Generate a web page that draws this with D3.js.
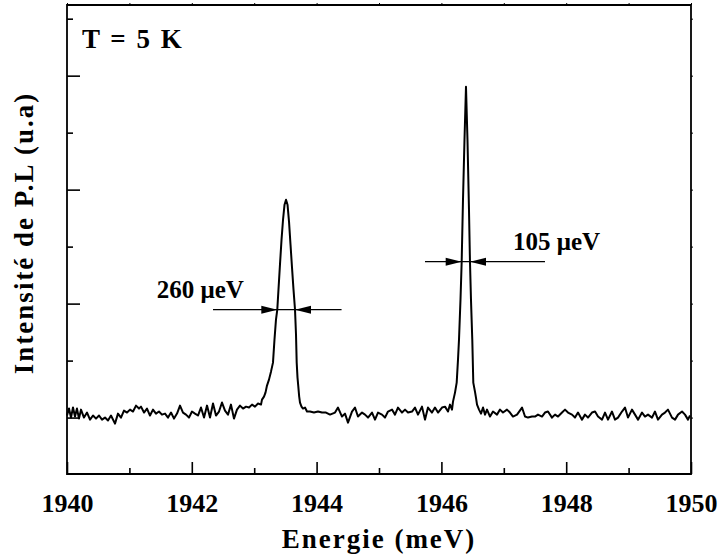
<!DOCTYPE html>
<html><head><meta charset="utf-8">
<script src="https://cdn.jsdelivr.net/npm/d3@7"></script>
<style>html,body{margin:0;padding:0;background:#fff;} svg{display:block;}</style>
</head><body><svg id="c" width="722" height="559"></svg>
<script>
// ---------- DATA ----------
const xDomain = [1940, 1950];
const yDomain = [505, 4620];
const xMajor = [1940, 1942, 1944, 1946, 1948, 1950];
const xMinor = [1941, 1943, 1945, 1947, 1949];
const yMajor = [1000, 2000, 3000, 4000];
const yMinor = [1500, 2500, 3500, 4500];

// baseline before first peak
const energyA = [
1940.000,1940.032,1940.064,1940.096,1940.128,1940.160,1940.192,1940.224,1940.272,1940.321,
1940.369,1940.417,1940.465,1940.513,1940.561,1940.609,1940.657,1940.705,1940.769,1940.817,
1940.865,1940.913,1940.962,1941.010,1941.058,1941.106,1941.154,1941.186,1941.234,1941.282,
1941.330,1941.378,1941.426,1941.474,1941.522,1941.571,1941.619,1941.667,1941.715,1941.763,
1941.811,1941.859,1941.907,1941.955,1942.003,1942.051,1942.099,1942.147,1942.196,1942.244,
1942.292,1942.340,1942.388,1942.436,1942.484,1942.532,1942.580,1942.628,1942.676,1942.724,
1942.772,1942.821,1942.869,1942.917,1942.965,1943.013,1943.061,1943.109];
const intensityA = [
1018,1079,1000,1088,1009,1079,991,1070,1000,1044,
982,1018,991,1018,982,1000,974,1018,947,1035,
1000,1061,1044,1070,1053,1105,1079,1096,1044,1079,
1018,1070,1035,1053,1026,1035,1000,1044,991,1035,
1105,1044,1026,1000,1053,1035,1018,1088,1000,1105,
1000,1123,1018,1053,1132,1061,1026,1114,991,1070,
1105,1079,1096,1088,1114,1096,1123,1114];

// first peak (260 µeV)
const energyP1 = [
1943.125,1943.157,1943.181,1943.205,1943.237,1943.269,1943.301,1943.325,1943.349,1943.370,
1943.389,1943.413,1943.438,1943.462,1943.486,1943.510,1943.534,1943.558,1943.582,1943.606,
1943.630,1943.654,1943.670,1943.681,1943.694,1943.707,1943.721,1943.734,1943.758,1943.782,
1943.814,1943.846];
const intensityP1 = [
1158,1184,1219,1281,1333,1403,1482,1684,1859,1947,
2123,2342,2561,2736,2868,2912,2868,2719,2517,2316,
2123,1947,1728,1482,1351,1272,1184,1132,1096,1079,
1088,1053];

// baseline between peaks
const energyB = [
1943.894,1943.958,1944.022,1944.087,1944.151,1944.215,1944.295,1944.343,1944.407,1944.455,
1944.503,1944.567,1944.615,1944.663,1944.728,1944.776,1944.824,1944.888,1944.936,1944.984,
1945.048,1945.096,1945.144,1945.208,1945.256,1945.304,1945.369,1945.417,1945.465,1945.529,
1945.577,1945.625,1945.689,1945.737,1945.785,1945.849,1945.897,1945.946,1946.010,1946.058,
1946.106,1946.138,1946.170,1946.186];
const intensityB = [
1053,1044,1053,1044,1044,1026,1044,1088,1009,1035,
956,1053,1088,1009,1044,1026,1000,1044,982,1044,
1026,1000,1053,1070,1026,1088,1044,1070,1044,1053,
1088,1026,1096,982,1088,1044,1088,1044,1088,1096,
1053,1114,1070,1140];

// second peak (105 µeV)
const energyP2 = [
1946.218,1946.245,1946.266,1946.282,1946.306,1946.325,1946.346,1946.370,1946.394,1946.418,
1946.442,1946.458,1946.474,1946.495,1946.511,1946.538,1946.554,1946.571,1946.603,1946.635,
1946.667,1946.699,1946.731];
const intensityP2 = [
1219,1307,1509,1684,2035,2368,2912,3438,3903,3438,
2824,2368,2035,1684,1307,1228,1175,1114,1070,1035,
1088,1026,1070];

// baseline after second peak
const energyC = [
1946.779,1946.827,1946.891,1946.939,1946.987,1947.051,1947.099,1947.147,1947.212,1947.292,
1947.340,1947.388,1947.452,1947.500,1947.548,1947.612,1947.660,1947.708,1947.772,1947.821,
1947.869,1947.933,1947.981,1948.029,1948.093,1948.141,1948.189,1948.253,1948.301,1948.349,
1948.413,1948.462,1948.510,1948.574,1948.622,1948.670,1948.734,1948.782,1948.830,1948.894,
1948.942,1948.990,1949.054,1949.103,1949.151,1949.215,1949.263,1949.311,1949.375,1949.423,
1949.471,1949.535,1949.583,1949.631,1949.696,1949.744,1949.792,1949.856,1949.904,1949.952,
1949.984];
const intensityC = [
1009,1053,1026,1070,1044,1070,1044,1009,1026,1088,
1009,1000,1009,1009,1026,1009,1044,1053,1000,1026,
1009,1044,1070,1044,1026,1000,1044,982,1026,1000,
1044,1053,1009,982,1044,982,1053,982,1000,1053,
1088,1000,1070,1026,982,1044,1009,1026,1000,1053,
982,1026,1044,1070,1000,982,1026,1053,1026,982,
1018];

// FWHM annotations (data units)
const fwhmLabels = ["260 \u03BCeV", "105 \u03BCeV"];
const fwhmLevel = [1947, 2368];
const fwhmTipLeft = [1943.370, 1946.325];
const fwhmTipRight = [1943.654, 1946.458];
const fwhmLineStart = [1942.34, 1945.737];
const fwhmLineEnd = [1944.40, 1947.66];
const labelE = [1941.44, 1947.147];
const labelI = [2052, 2473];

const tempLabel = "T = 5 K";
const xTitle = "Energie (meV)";
const yTitle = "Intensit\u00E9 de P.L (u.a)";

// ---------- DRAW ----------
const FONT = "'Liberation Serif','Times New Roman',serif";
const svg = d3.select("#c");
const L = 67, R = 691, T = 5, B = 474;
const x = d3.scaleLinear().domain(xDomain).range([L, R]);
const y = d3.scaleLinear().domain(yDomain).range([B, T]);

const energy = [].concat(energyA, energyP1, energyB, energyP2, energyC);
const intensity = [].concat(intensityA, intensityP1, intensityB, intensityP2, intensityC);
const data = energy.map((e, i) => ({e, v: intensity[i]}));

function styleAxis(g, w) {
  g.select(".domain").remove();
  g.selectAll(".tick line").attr("stroke", "#000").attr("stroke-width", w);
}

// ticks
svg.append("g").attr("transform", `translate(0,${B})`)
  .call(d3.axisBottom(x).tickValues(xMajor).tickSizeInner(-12).tickSizeOuter(0).tickPadding(20).tickFormat(d3.format("d")))
  .call(g => styleAxis(g, 1.6))
  .call(g => g.selectAll("text").attr("font-family", FONT).attr("font-weight", "bold").attr("font-size", 26).attr("fill", "#000"));
svg.append("g").attr("transform", `translate(0,${B})`)
  .call(d3.axisBottom(x).tickValues(xMinor).tickSizeInner(-6).tickSizeOuter(0).tickFormat(""))
  .call(g => styleAxis(g, 1.6));
svg.append("g").attr("transform", `translate(${L},0)`)
  .call(d3.axisLeft(y).tickValues(yMajor).tickSizeInner(-13).tickSizeOuter(0).tickFormat(""))
  .call(g => styleAxis(g, 1.6));
svg.append("g").attr("transform", `translate(${L},0)`)
  .call(d3.axisLeft(y).tickValues(yMinor).tickSizeInner(-6).tickSizeOuter(0).tickFormat(""))
  .call(g => styleAxis(g, 1.6));
svg.append("g").attr("transform", `translate(0,${T})`)
  .call(d3.axisTop(x).tickValues(xMajor.concat(xMinor)).tickSizeInner(2).tickSizeOuter(0).tickFormat(""))
  .call(g => styleAxis(g, 1));
svg.append("g").attr("transform", `translate(${R},0)`)
  .call(d3.axisRight(y).tickValues(yMajor.concat(yMinor)).tickSizeInner(2).tickSizeOuter(0).tickFormat(""))
  .call(g => styleAxis(g, 1));

// frame
svg.append("path")
  .attr("d", `M${L},${T}H${R}V${B}H${L}Z`)
  .attr("fill", "none").attr("stroke", "#000").attr("stroke-width", 1.8);

// spectrum
svg.append("path").datum(data)
  .attr("d", d3.line().x(d => x(d.e)).y(d => y(d.v)))
  .attr("fill", "none").attr("stroke", "#000").attr("stroke-width", 2)
  .attr("stroke-linejoin", "round");

// FWHM arrows
const headLen = 16, headHalf = 4;
fwhmLabels.forEach((lab, i) => {
  const yy = y(fwhmLevel[i]);
  const x1 = x(fwhmLineStart[i]), x2 = x(fwhmLineEnd[i]);
  const tl = x(fwhmTipLeft[i]), tr = x(fwhmTipRight[i]);
  svg.append("line").attr("x1", x1).attr("x2", x2).attr("y1", yy).attr("y2", yy)
    .attr("stroke", "#000").attr("stroke-width", 1.3);
  svg.append("path").attr("d", `M${tl},${yy}L${tl - headLen},${yy - headHalf}L${tl - headLen},${yy + headHalf}Z`).attr("fill", "#000");
  svg.append("path").attr("d", `M${tr},${yy}L${tr + headLen},${yy - headHalf}L${tr + headLen},${yy + headHalf}Z`).attr("fill", "#000");
  svg.append("text").attr("x", x(labelE[i])).attr("y", y(labelI[i]))
    .attr("font-family", FONT).attr("font-weight", "bold").attr("font-size", 25)
    .attr("fill", "#000").text(lab);
});

// temperature label
svg.append("text").attr("x", 82).attr("y", 48)
  .attr("font-family", FONT).attr("font-weight", "bold").attr("font-size", 27)
  .attr("letter-spacing", "2px").attr("fill", "#000").text(tempLabel);

// axis titles
svg.append("text").attr("x", (L + R) / 2).attr("y", 548).attr("text-anchor", "middle")
  .attr("font-family", FONT).attr("font-weight", "bold").attr("font-size", 27)
  .attr("letter-spacing", "2px").attr("fill", "#000").text(xTitle);
svg.append("text").attr("transform", `translate(33,233) rotate(-90)`).attr("text-anchor", "middle")
  .attr("font-family", FONT).attr("font-weight", "bold").attr("font-size", 27)
  .attr("letter-spacing", "2px").attr("fill", "#000").text(yTitle);
</script>
</body></html>
